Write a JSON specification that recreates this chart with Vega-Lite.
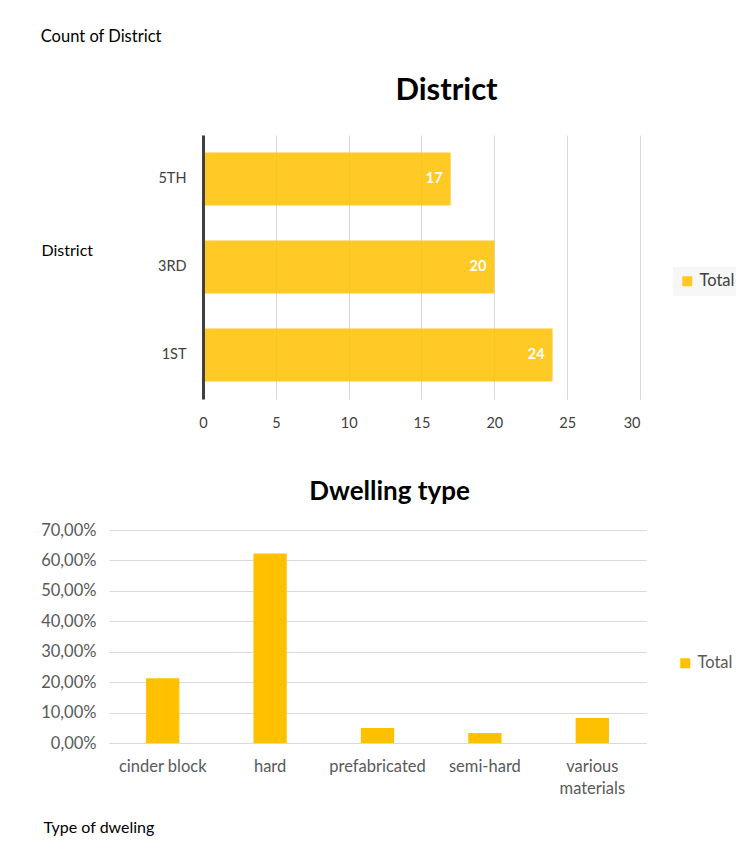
{
  "$schema": "https://vega.github.io/schema/vega-lite/v6.json",
  "padding": {"left": 40, "top": 28, "right": 5, "bottom": 5},
  "title": {"text": "Count of District", "anchor": "start", "fontSize": 16.5, "fontWeight": "normal", "font": "Lato", "color": "#000000", "offset": 30},
  "config": {"font": "Lato", "view": {"stroke": null}},
  "spacing": 49,
  "resolve": {"scale": {"color": "independent"}, "legend": {"color": "independent"}},
  "vconcat": [
    {
      "width": 531,
      "height": 264,
      "title": {"text": "District", "fontSize": 31, "fontWeight": "bold", "dx": 72, "offset": 28, "color": "#000000"},
      "data": {"values": [
        {"district": "5TH", "count": 17, "series": "Total"},
        {"district": "3RD", "count": 20, "series": "Total"},
        {"district": "1ST", "count": 24, "series": "Total"}
      ]},
      "encoding": {
        "y": {"field": "district", "type": "nominal", "sort": ["5TH", "3RD", "1ST"],
          "scale": {"paddingInner": 0.4, "paddingOuter": 0.2},
          "axis": {"title": "District", "offset": -94, "titleAngle": 0, "titleX": -162, "titleY": 115, "titleAlign": "left", "titleBaseline": "middle", "titleFontSize": 16, "titleFontWeight": "normal", "titleColor": "#000000", "labelFontSize": 14.5, "labelColor": "#404040", "labelPadding": 17, "ticks": false, "domainColor": "#404040", "domainWidth": 3, "grid": false, "zindex": 2}},
        "x": {"field": "count", "type": "quantitative", "scale": {"domain": [-6.453, 30], "nice": false, "zero": false},
          "axis": {"title": null, "values": [0, 5, 10, 15, 20, 25, 30], "grid": true, "gridColor": "#d9d9d9", "domain": false, "ticks": false, "labelFontSize": 14.5, "labelColor": "#404040", "labelPadding": 17}}
      },
      "layer": [
        {
          "mark": {"type": "bar", "opacity": 0.85},
          "encoding": {
            "x2": {"datum": 0},
            "color": {"field": "series", "type": "nominal", "scale": {"range": ["#FFC000"]},
              "legend": {"title": null, "orient": "none", "legendX": 564, "legendY": 132, "symbolType": "square", "symbolSize": 100, "symbolStrokeWidth": 0, "labelFontSize": 16.5, "labelColor": "#404040", "fillColor": "#f7f7f7", "padding": 6, "symbolOpacity": 0.85}}
          }
        },
        {
          "mark": {"type": "text", "align": "right", "baseline": "middle", "dx": -8, "color": "#ffffff", "fontWeight": "bold", "fontSize": 14.5},
          "encoding": {"text": {"field": "count", "type": "quantitative"}}
        }
      ]
    },
    {
      "width": 537,
      "height": 213,
      "title": {"text": "Dwelling type", "fontSize": 26, "fontWeight": "bold", "dx": 12, "offset": 17, "color": "#000000"},
      "data": {"values": [
        {"type": "cinder block", "share": 0.2131, "series": "Total"},
        {"type": "hard", "share": 0.623, "series": "Total"},
        {"type": "prefabricated", "share": 0.0492, "series": "Total"},
        {"type": "semi-hard", "share": 0.0328, "series": "Total"},
        {"type": "various materials", "share": 0.082, "series": "Total"}
      ]},
      "mark": {"type": "bar"},
      "encoding": {
        "x": {"field": "type", "type": "nominal", "sort": ["cinder block", "hard", "prefabricated", "semi-hard", "various materials"],
          "scale": {"paddingInner": 0.69, "paddingOuter": 0.345},
          "axis": {"title": "Type of dweling", "titleX": -66, "titleY": 84, "titleAlign": "left", "titleBaseline": "middle", "titleFontSize": 16, "titleFontWeight": "normal", "titleColor": "#000000", "labelAngle": 0, "labelFontSize": 16.5, "labelColor": "#595959", "labelPadding": 15, "labelLineHeight": 22, "ticks": false, "domainColor": "#d9d9d9", "labelExpr": "datum.value == 'various materials' ? ['various', 'materials'] : datum.value"}},
        "y": {"field": "share", "type": "quantitative", "scale": {"domain": [0, 0.7], "nice": false},
          "axis": {"title": null, "values": [0, 0.1, 0.2, 0.3, 0.4, 0.5, 0.6, 0.7], "labelExpr": "replace(format(datum.value, '.2%'), '.', ',')", "gridColor": "#d9d9d9", "domain": false, "ticks": false, "labelPadding": 13, "labelFontSize": 16.5, "labelColor": "#595959"}},
        "color": {"field": "series", "type": "nominal", "scale": {"range": ["#FFC000"]},
          "legend": {"title": null, "orient": "none", "legendX": 568, "legendY": 125, "symbolType": "square", "symbolSize": 100, "symbolStrokeWidth": 0, "labelFontSize": 16.5, "labelColor": "#595959"}}
      }
    }
  ]
}
